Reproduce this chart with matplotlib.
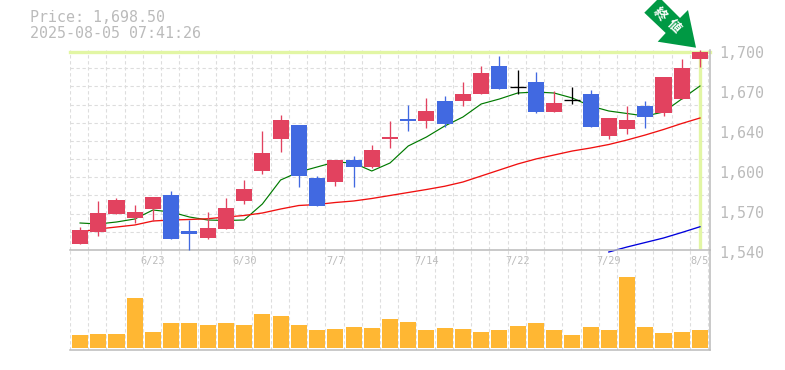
import matplotlib
matplotlib.use("Agg")
import matplotlib.pyplot as plt
from matplotlib.patches import Polygon
from matplotlib.transforms import Affine2D, ScaledTranslation
import numpy as np

title_price = "Price: 1,698.50"
title_time = "2025-08-05 07:41:26"
badge_chars = ["終", "値"]

x_positions = [4, 9, 14, 19, 24, 29, 34]
x_labels = ["6/23", "6/30", "7/7", "7/14", "7/22", "7/29", "8/5"]
y_positions = [1700, 1668, 1636, 1604, 1572, 1540]
y_labels = ["1,700", "1,670", "1,640", "1,600", "1,570", "1,540"]

opens = [1544.8, 1554.4, 1568.8, 1565.6, 1572.8, 1584, 1555.2, 1549.6, 1556.8, 1579.2,
         1603.2, 1628.8, 1640, 1597.6, 1594.4, 1612, 1606.4, 1628.8, 1644.8, 1643.2,
         1659.2, 1659.2, 1664.8, 1687.2, 1670.8, 1674.4, 1650.4, 1660.4, 1664.8, 1631.2,
         1636.8, 1655.2, 1649.6, 1660.8, 1692.8]
closes = [1556, 1569.6, 1580, 1570.4, 1582.4, 1548.8, 1552.8, 1557.6, 1573.6, 1588.8,
          1617.6, 1644, 1599.2, 1575.2, 1612, 1606.4, 1620, 1630.4, 1643.2, 1651.2,
          1640.8, 1664.8, 1681.6, 1668.8, 1670.8, 1650.4, 1657.6, 1660.4, 1638.4, 1645.6,
          1644, 1646.4, 1678.4, 1685.6, 1698.5]
highs = [1558.4, 1579.2, 1581.6, 1576, 1582.4, 1587.2, 1564, 1570.4, 1581.6, 1596,
         1635.2, 1648, 1640, 1599.2, 1612, 1615.2, 1624, 1643.2, 1656, 1661.6,
         1663.2, 1674.4, 1687.2, 1695.2, 1684, 1682.4, 1667.2, 1670.4, 1668, 1645.6,
         1655.2, 1659.2, 1678.4, 1692.8, 1700]
lows = [1544.8, 1551.2, 1568.8, 1561.6, 1563.2, 1548.8, 1540, 1548.8, 1556.8, 1576.8,
        1600.8, 1618.4, 1590.4, 1575.2, 1591.2, 1590.4, 1605.6, 1621.6, 1635.2, 1637.6,
        1638.4, 1655.2, 1664.8, 1668.8, 1664.8, 1649.6, 1650.4, 1656.8, 1638.4, 1628.8,
        1632.8, 1637.6, 1647.2, 1660.8, 1686.4]
ma_short = [1561.6, 1560.8, 1562.4, 1564.8, 1572, 1570.4, 1566.4, 1564, 1563.6, 1564,
            1576.8, 1596, 1602.4, 1606.4, 1610.4, 1609.6, 1603.2, 1609.6, 1623.2, 1630.4,
            1639.2, 1646.4, 1656.8, 1660.8, 1665.6, 1666.4, 1665.6, 1661.6, 1655.2, 1651.2,
            1649.2, 1647.2, 1650.4, 1660.8, 1671.2]
ma_mid = [1554.4, 1556.8, 1558.4, 1560, 1563.2, 1564, 1564.4, 1565, 1566.4, 1567.6,
          1569.6, 1572.8, 1575.6, 1576.4, 1578, 1579.2, 1581.2, 1583.6, 1586, 1588.4,
          1591, 1594.4, 1599.2, 1604, 1608.8, 1612.8, 1616, 1619.2, 1621.6, 1624.4,
          1628, 1632, 1636.4, 1641.2, 1645.6]
ma_long_index = [29, 30, 31, 32, 33, 34]
ma_long = [1538.4, 1542.4, 1546, 1549.6, 1554, 1558.6]
volumes = [13, 14, 14, 50, 16, 25, 25, 23, 25, 23, 34, 32, 23, 18, 19, 21, 20, 29,
           26, 18, 20, 19, 16, 18, 22, 25, 18, 13, 21, 18, 71, 21, 15, 16, 18]

RED, BLUE, BLACK = "#E2425F", "#4169E1", "#000000"
ORANGE, LIME, GRID, BORDER, TEXT = "#FFB733", "#E2F6A4", "#DDDDDD", "#BBBBBB", "#BBBBBB"
W, H = 785, 370
MONO = "DejaVu Sans Mono"

fig = plt.figure(figsize=(W / 100, H / 100), dpi=100, facecolor="white")
ax = fig.add_axes([70 / W, 1 - 250 / H, 640 / W, 200 / H])
axv = fig.add_axes([70 / W, 1 - 350 / H, 640 / W, 100 / H])
idx = np.arange(len(opens))
dash = (0, (3, 2.4))
xlim = (-0.55, 34.55)

for a in (ax, axv):
    a.set_xticks(np.arange(36) - 0.55, minor=True)
    a.grid(which="minor", axis="x", color=GRID, lw=0.8, ls=dash, zorder=0)
    a.set_axisbelow(True)
    a.patch.set_alpha(0)
    a.tick_params(which="both", length=0)
    for s in ("top", "left"):
        a.spines[s].set_visible(False)
    for s in ("right", "bottom"):
        a.spines[s].set_color(BORDER)
        a.spines[s].set_linewidth(1.1)

ax.set_ylim(1540, 1700)
ax.set_yticks(np.linspace(1540, 1700, 12), minor=True)
ax.grid(which="minor", axis="y", color=GRID, lw=0.8, ls=dash, zorder=0)
ax.yaxis.tick_right()
ax.set_yticks(y_positions)
ax.set_yticklabels(y_labels, family=MONO, fontsize=10.8, color=TEXT)
ax.tick_params(axis="y", pad=6.8)
shift = ScaledTranslation(0, -2.4 / 100, fig.dpi_scale_trans)
for t in ax.get_yticklabels():
    t.set_transform(t.get_transform() + shift)
ax.set_xticks(x_positions)
ax.set_xticklabels(x_labels, family=MONO, fontsize=7.4, color=TEXT)
ax.tick_params(axis="x", pad=4.5)

# current price guide lines
ax.axhline(closes[-1], color=LIME, lw=2.4, zorder=1, clip_on=False)
ax.vlines(idx[-1], 1541, closes[-1], color=LIME, lw=2.4, zorder=1)

# moving averages
ax.plot(idx, ma_short, color="#007A00", lw=0.85, zorder=2)
ax.plot(idx, ma_mid, color="#F01010", lw=0.95, zorder=2)
ax.plot(ma_long_index, ma_long, color="#0000DD", lw=0.95, zorder=2, clip_on=False)

# candles
for i, o, c, h, l in zip(idx, opens, closes, highs, lows):
    col = RED if c > o else (BLUE if c < o else BLACK)
    ax.vlines(i, l, h, color=col, lw=0.95, zorder=3, clip_on=False)
    if c == o:
        ax.hlines(c, i - 0.44, i + 0.44, color=col, lw=0.95, zorder=3)
    else:
        ax.bar(i, abs(c - o), bottom=min(o, c), width=0.88, color=col, lw=0, zorder=3, clip_on=False)

# volume
axv.bar(idx, volumes, width=0.88, color=ORANGE, lw=0, zorder=3)
axv.set_ylim(-2, 98)
axv.set_yticks([])
axv.set_xticks([])
ax.set_xlim(*xlim)
axv.set_xlim(*xlim)

# header
fig.text(30 / W, 1 - 18 / H, title_price, family=MONO, fontsize=10.8, color=TEXT, va="center")
fig.text(30 / W, 1 - 33 / H, title_time, family=MONO, fontsize=10.8, color=TEXT, va="center")

# badge arrow
px = Affine2D().scale(1 / W, -1 / H).translate(0, 1) + fig.transFigure
badge = Polygon([(644.3, 12.7), (657, 0), (662, 0), (680, 18), (688, 10), (696, 47.7),
                 (657.7, 41.7), (665.7, 33)], closed=True, fc="#009944", ec="none",
                transform=px, zorder=5)
fig.add_artist(badge)
for ch, pos in zip(badge_chars, [(660, 14), (674, 26)]):
    fig.text(pos[0], pos[1], ch, family="Noto Sans CJK JP", weight="bold", fontsize=9.5, color="white",
             rotation=-45, ha="center", va="center", rotation_mode="anchor", transform=px, zorder=6)

fig.savefig("out.png", dpi=100, facecolor="white")
